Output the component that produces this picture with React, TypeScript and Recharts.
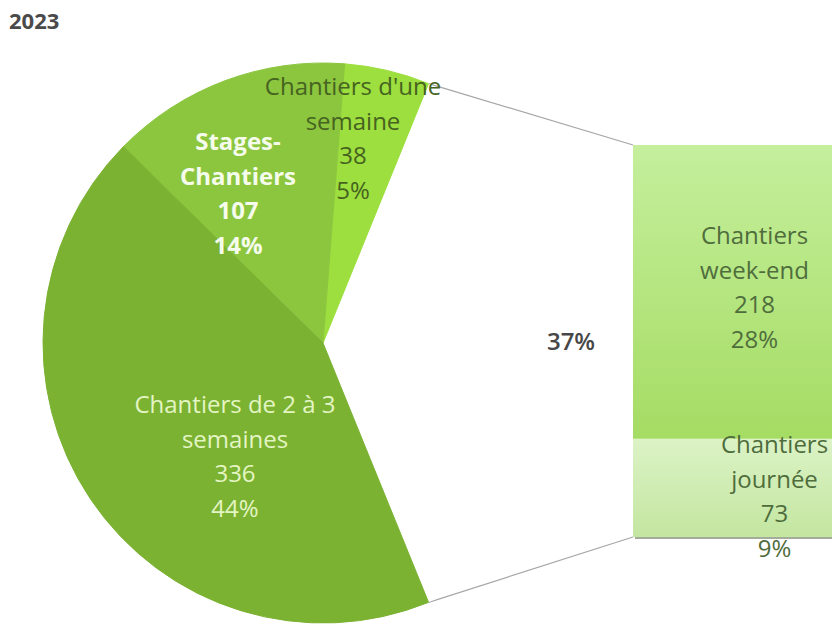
import React from "react"
import { PieChart, Pie, Cell, BarChart, Bar, XAxis, YAxis, LabelList } from "recharts"

// values
const title = "2023"
const pieCategories = ["Chantiers d'une semaine", "Stages-Chantiers", "Chantiers de 2 à 3 semaines"]
const pieValues = [38, 107, 336]
const barCategories = ["Chantiers journée", "Chantiers week-end"]
const barValues = [73, 218]
const otherName = "Autres"

const sum = (a: number[]) => a.reduce((s, v) => s + v, 0)
const otherValue = sum(barValues)
const total = otherValue + sum(pieValues)
const pct = (v: number) => Math.round((v / total) * 100)
const otherPct = sum(barValues.map(pct))

const pieData = [
  { name: otherName, value: otherValue },
  ...pieCategories.map((name, i) => ({ name, value: pieValues[i] })),
]
const barRow: Record<string, string | number> = { name: otherName }
barValues.forEach((v, i) => (barRow[`s${i}`] = v))
const barData = [barRow]

// layout
const W = 834
const H = 627
const PIE = { cx: 323, cy: 343, r: 280 }
const BAR = { left: 633, top: 145, width: 199, height: 392 }
const FONT = "'Open Sans', 'Noto Sans', sans-serif"
const LH = 34.5
const FS = 24

const wrap: Record<string, string[]> = {
  "Chantiers d'une semaine": ["Chantiers d'une", "semaine"],
  "Stages-Chantiers": ["Stages-", "Chantiers"],
  "Chantiers de 2 à 3 semaines": ["Chantiers de 2 à 3", "semaines"],
  "Chantiers journée": ["Chantiers", "journée"],
  "Chantiers week-end": ["Chantiers", "week-end"],
}

const sliceFill: Record<string, string> = {
  [otherName]: "#ffffff",
  "Chantiers d'une semaine": "#9ddf3e",
  "Stages-Chantiers": "#8cc63f",
  "Chantiers de 2 à 3 semaines": "#7bb232",
}

// label block centre, relative to pie centre
const sliceLabel: Record<string, { dx: number; dy: number; fill: string; weight: number }> = {
  [otherName]: { dx: 248, dy: -3, fill: "#474747", weight: 600 },
  "Chantiers d'une semaine": { dx: 30, dy: -206, fill: "#46631f", weight: 400 },
  "Stages-Chantiers": { dx: -85, dy: -151, fill: "#f6fcec", weight: 700 },
  "Chantiers de 2 à 3 semaines": { dx: -88, dy: 112, fill: "#e4f5c4", weight: 400 },
}

const barLabel = [
  { dx: 42, dy: 7 },
  { dx: 22, dy: -6 },
]

function Block({ x, y, lines, fill, weight }: { x: number; y: number; lines: string[]; fill: string; weight: number }) {
  const top = y - ((lines.length - 1) * LH) / 2
  return (
    <text textAnchor="middle" dominantBaseline="central" fontFamily={FONT} fontSize={FS} fontWeight={weight} fill={fill}>
      {lines.map((l, k) => (
        <tspan key={k} x={x} y={top + k * LH}>
          {l}
        </tspan>
      ))}
    </text>
  )
}

const renderPieLabel = (props: any) => {
  const d = pieData[props.index]
  const s = sliceLabel[d.name]
  const lines = d.name === otherName ? [`${otherPct}%`] : [...wrap[d.name], String(d.value), `${pct(d.value)}%`]
  return <Block key={d.name} x={props.cx + s.dx} y={props.cy + s.dy} lines={lines} fill={s.fill} weight={s.weight} />
}

const makeBarLabel = (i: number) => (props: any) => {
  const { x, y, width, height } = props
  const name = barCategories[i]
  const lines = [...wrap[name], String(barValues[i]), `${pct(barValues[i])}%`]
  return (
    <Block
      x={x + width / 2 + barLabel[i].dx}
      y={y + height / 2 + barLabel[i].dy}
      lines={lines}
      fill="#4f6d3c"
      weight={400}
    />
  )
}

export default function App() {
  const half = (otherValue / total) * 180
  const rad = (half * Math.PI) / 180
  const up = { x: PIE.cx + PIE.r * Math.cos(rad), y: PIE.cy - PIE.r * Math.sin(rad) }
  const down = { x: PIE.cx + PIE.r * Math.cos(rad), y: PIE.cy + PIE.r * Math.sin(rad) }

  return (
    <div style={{ position: "absolute", left: 0, top: 0, width: W, height: H, background: "#fff" }}>
      <svg width={W} height={H} style={{ position: "absolute", left: 0, top: 0 }}>
        <text x={9} y={20} dominantBaseline="central" fontFamily={FONT} fontSize={22} fontWeight={700} fill="#4a4a4a">
          {title}
        </text>
        <line x1={up.x} y1={up.y} x2={BAR.left} y2={BAR.top} stroke="#a6a6a6" strokeWidth={1.2} />
        <line x1={down.x} y1={down.y} x2={BAR.left} y2={BAR.top + BAR.height} stroke="#a6a6a6" strokeWidth={1.2} />
        <rect x={BAR.left + 2} y={BAR.top + BAR.height - 1} width={BAR.width - 2} height={3} fill="#7d8a72" opacity={0.7} />
      </svg>

      <div style={{ position: "absolute", left: 0, top: 0 }}>
        <PieChart width={W} height={H} margin={{ top: 0, right: 0, bottom: 0, left: 0 }}>
          <Pie
            data={pieData}
            dataKey="value"
            nameKey="name"
            cx={PIE.cx}
            cy={PIE.cy}
            outerRadius={PIE.r}
            startAngle={-half}
            endAngle={360 - half}
            label={renderPieLabel}
            labelLine={false}
            isAnimationActive={false}
          >
            {pieData.map((d) => (
              <Cell key={d.name} fill={sliceFill[d.name]} stroke={d.name === otherName ? "none" : sliceFill[d.name]} strokeWidth={1} />
            ))}
          </Pie>
        </PieChart>
      </div>

      <div style={{ position: "absolute", left: BAR.left, top: BAR.top }}>
        <BarChart
          width={W - BAR.left}
          height={BAR.height + 30}
          data={barData}
          margin={{ top: 0, right: W - BAR.left - BAR.width, bottom: 30, left: 0 }}
          barCategoryGap={0}
        >
          <defs>
            <linearGradient id="gWeek" x1="0" y1="0" x2="0" y2="1">
              <stop offset="0%" stopColor="#c5ef9d" />
              <stop offset="100%" stopColor="#a5dc63" />
            </linearGradient>
            <linearGradient id="gJour" x1="0" y1="0" x2="0" y2="1">
              <stop offset="0%" stopColor="#dcf3c6" />
              <stop offset="100%" stopColor="#c3e6a0" />
            </linearGradient>
          </defs>
          <XAxis dataKey="name" hide />
          <YAxis hide domain={[0, otherValue]} />
          <Bar dataKey="s0" stackId="o" fill="url(#gJour)" isAnimationActive={false}>
            <LabelList dataKey="s0" content={makeBarLabel(0)} />
          </Bar>
          <Bar dataKey="s1" stackId="o" fill="url(#gWeek)" isAnimationActive={false}>
            <LabelList dataKey="s1" content={makeBarLabel(1)} />
          </Bar>
        </BarChart>
      </div>
    </div>
  )
}
